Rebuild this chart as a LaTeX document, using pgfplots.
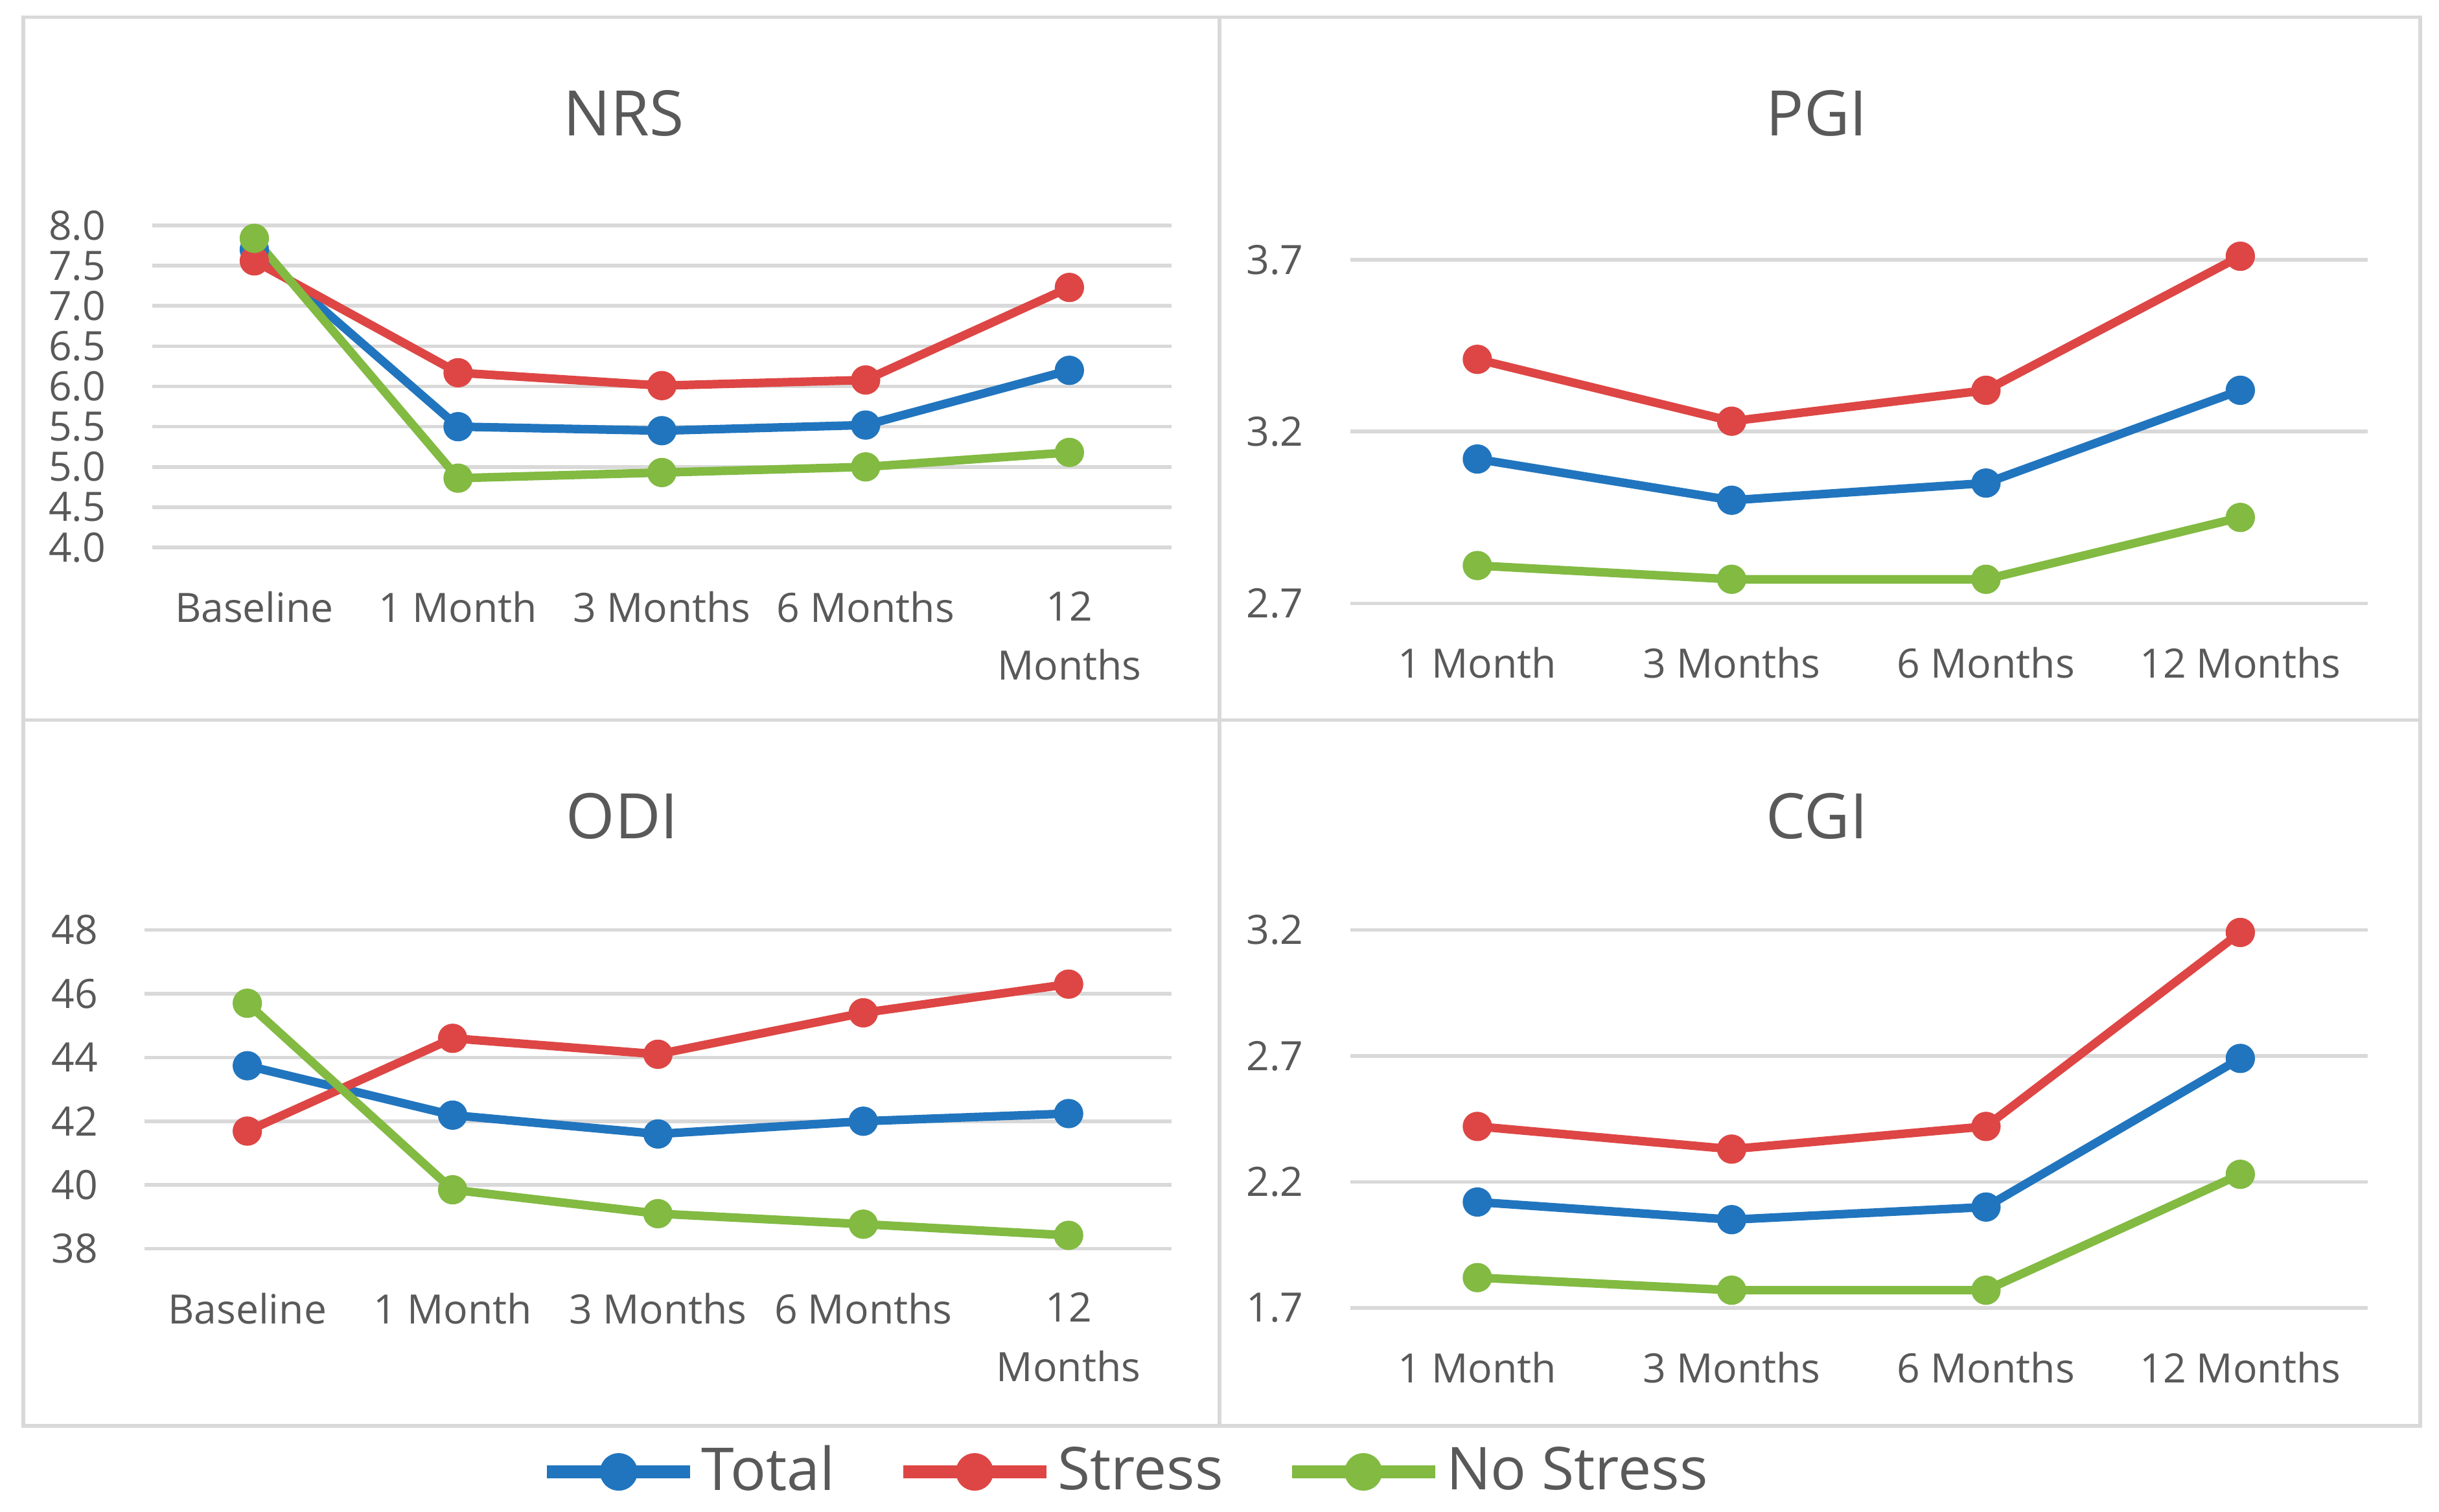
\documentclass[border=0pt]{standalone}
\usepackage{fontspec}
\setmainfont{Open Sans}
\usepackage{pgfplots}
\pgfplotsset{compat=1.18}
\definecolor{cTotal}{RGB}{33,117,190}
\definecolor{cStress}{RGB}{221,70,68}
\definecolor{cNo}{RGB}{130,186,66}
\definecolor{txt}{RGB}{89,89,89}
\definecolor{gridc}{RGB}{217,217,217}
\pgfplotsset{
  panel/.style={
    scale only axis,
    axis line style={draw=none},
    major tick length=0pt,
    tick style={draw=none},
    ymajorgrids,
    grid style={gridc, line width=0.7pt},
    clip=false,
    /pgf/number format/assume math mode=true,
    ticklabel style={font=\fontsize{7.8}{11.4}\selectfont, text=txt},
    yticklabel style={anchor=east, inner sep=0pt, xshift=-8.8pt},
    xticklabel style={anchor=north, inner sep=0pt, yshift=-8.3pt, align=center},
  },
  ser/.style={color=#1, line width=1.65pt, mark=*, mark size=2pt, mark options={solid}},
}
\begin{document}
\begin{tikzpicture}
\useasboundingbox (0pt,0pt) rectangle (470.4pt,291.6pt);
\fill[white] (0pt,0pt) rectangle (470.4pt,291.6pt);
% frame
\draw[gridc, line width=0.7pt] (4.5pt,16.5pt) rectangle (466.8pt,288.3pt);
\draw[gridc, line width=0.7pt] (235.2pt,16.5pt) -- (235.2pt,288.3pt);
\draw[gridc, line width=0.7pt] (4.5pt,152.7pt) -- (466.8pt,152.7pt);
% titles
\node[font=\fontsize{12.1}{14}\selectfont, text=txt] at (120.3pt,269.7pt) {NRS};
\node[font=\fontsize{12.1}{14}\selectfont, text=txt] at (350.4pt,269.7pt) {PGI};
\node[font=\fontsize{12.1}{14}\selectfont, text=txt] at (120.0pt,134.1pt) {ODI};
\node[font=\fontsize{12.1}{14}\selectfont, text=txt] at (350.4pt,134.1pt) {CGI};

% NRS
\begin{axis}[panel, at={(29.4pt,186.0pt)}, anchor=south west,
  width=196.5pt, height=62.1pt,
  xmin=-0.5, xmax=4.5, ymin=4, ymax=8,
  ytick={4,4.5,...,8.01},
  yticklabel style={/pgf/number format/.cd, fixed, fixed zerofill, precision=1},
  xtick={0,1,2,3,4},
  xticklabels={Baseline,1 Month,3 Months,6 Months,{12\\Months}}]
\addplot[ser=cTotal] coordinates {(0,7.70) (1,5.50) (2,5.45) (3,5.52) (4,6.20)};
\addplot[ser=cStress] coordinates {(0,7.56) (1,6.17) (2,6.01) (3,6.08) (4,7.23)};
\addplot[ser=cNo] coordinates {(0,7.84) (1,4.86) (2,4.93) (3,5.00) (4,5.18)};
\end{axis}

% PGI
\begin{axis}[panel, at={(260.4pt,175.2pt)}, anchor=south west,
  width=196.2pt, height=66.3pt,
  xmin=-0.5, xmax=3.5, ymin=2.7, ymax=3.7,
  ytick={2.7,3.2,3.7},
  yticklabel style={/pgf/number format/.cd, fixed, fixed zerofill, precision=1},
  xtick={0,1,2,3},
  xticklabels={1 Month,3 Months,6 Months,12 Months}]
\addplot[ser=cTotal] coordinates {(0,3.12) (1,3.00) (2,3.05) (3,3.32)};
\addplot[ser=cStress] coordinates {(0,3.41) (1,3.23) (2,3.32) (3,3.71)};
\addplot[ser=cNo] coordinates {(0,2.81) (1,2.77) (2,2.77) (3,2.95)};
\end{axis}

% ODI
\begin{axis}[panel, at={(27.9pt,50.7pt)}, anchor=south west,
  width=198pt, height=61.5pt,
  xmin=-0.5, xmax=4.5, ymin=38, ymax=48,
  ytick={38,40,...,48},
  xtick={0,1,2,3,4},
  xticklabels={Baseline,1 Month,3 Months,6 Months,{12\\Months}},
  legend columns=3,
  legend style={at={(0.385,-0.70)}, anchor=west, draw=none, fill=none,
    inner sep=0pt, font=\fontsize{11.4}{13}\selectfont, text=txt,
    nodes={inner sep=1pt},
    /tikz/every even column/.append style={column sep=11pt}},
  legend image code/.code={
    \draw[line width=2.4pt] (0pt,0pt) -- (27.6pt,0pt);
    \fill (13.8pt,0pt) circle (2.8pt);}]
\addplot[ser=cTotal] coordinates {(0,43.74) (1,42.19) (2,41.60) (3,42.00) (4,42.24)};
\addlegendentry{Total}
\addplot[ser=cStress] coordinates {(0,41.69) (1,44.60) (2,44.10) (3,45.40) (4,46.30)};
\addlegendentry{Stress}
\addplot[ser=cNo] coordinates {(0,45.70) (1,39.85) (2,39.10) (3,38.77) (4,38.42)};
\addlegendentry{No Stress}
\end{axis}

% CGI
\begin{axis}[panel, at={(260.4pt,39.3pt)}, anchor=south west,
  width=196.2pt, height=72.9pt,
  xmin=-0.5, xmax=3.5, ymin=1.7, ymax=3.2,
  ytick={1.7,2.2,2.7,3.2},
  yticklabel style={/pgf/number format/.cd, fixed, fixed zerofill, precision=1},
  xtick={0,1,2,3},
  xticklabels={1 Month,3 Months,6 Months,12 Months}]
\addplot[ser=cTotal] coordinates {(0,2.12) (1,2.05) (2,2.10) (3,2.69)};
\addplot[ser=cStress] coordinates {(0,2.42) (1,2.33) (2,2.42) (3,3.19)};
\addplot[ser=cNo] coordinates {(0,1.82) (1,1.77) (2,1.77) (3,2.23)};
\end{axis}
\end{tikzpicture}
\end{document}
